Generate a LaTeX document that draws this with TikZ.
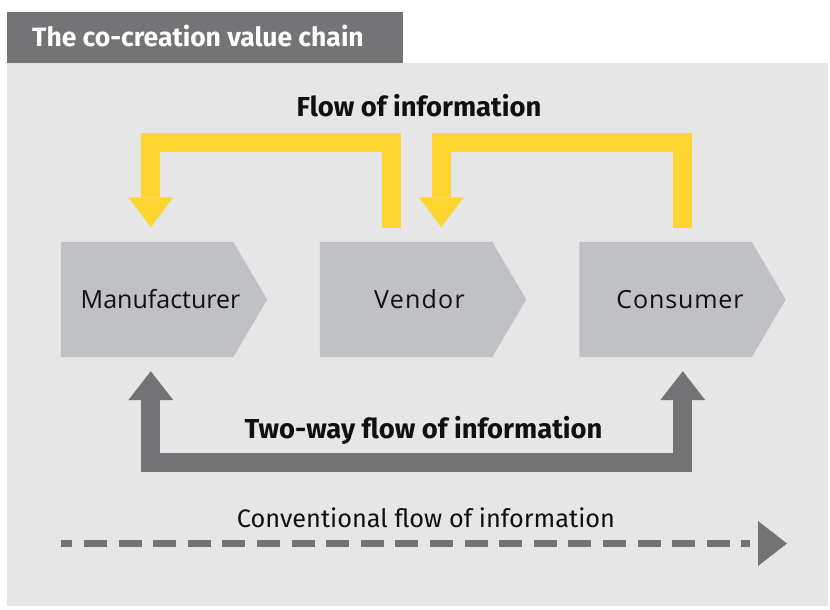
\documentclass[tikz,border=0pt]{standalone}
\usepackage{fontspec}
\setmainfont{Open Sans}
\newfontfamily\headfont{Fira Sans}
\usetikzlibrary{arrows.meta,calc}

\definecolor{panelbg}{RGB}{230,230,230}
\definecolor{headgray}{RGB}{116,116,119}
\definecolor{stagefill}{RGB}{192,193,196}
\definecolor{flowyellow}{RGB}{255,213,48}
\definecolor{flowgray}{RGB}{115,115,118}
\definecolor{inktext}{RGB}{16,16,16}

\tikzset{
  stage/.style={minimum width=206pt, minimum height=115pt, inner sep=0pt,
    font=\fontsize{25}{29}\selectfont, text=inktext},
  heading/.style={font=\headfont\bfseries\fontsize{27.4}{31}\selectfont, text=inktext, inner sep=0pt, anchor=base},
  yflow/.style={draw=flowyellow, line width=19pt, line join=miter, line cap=butt,
    -{Triangle[length=30pt,width=45pt,line width=0pt,fill=flowyellow]}},
  gflow/.style={draw=flowgray, line width=19pt, line join=miter, line cap=butt,
    {Triangle[length=29pt,width=45pt,line width=0pt,fill=flowgray]}-{Triangle[length=29pt,width=45pt,line width=0pt,fill=flowgray]}},
  cflow/.style={draw=flowgray, line width=7pt, line cap=butt,
    dash pattern=on 23pt off 11.6pt, dash phase=11.6pt}
}

% pentagon outline for a stage node: body plus pointed right end
\newcommand{\stageshape}[1]{%
  \fill[stagefill] (#1.north west) -- ($(#1.north east)+(-34,0)$) -- (#1.east)
    -- ($(#1.south east)+(-34,0)$) -- (#1.south west) -- cycle;}

\begin{document}
\begin{tikzpicture}[x=1pt,y=-1pt]
  \useasboundingbox (0,0) rectangle (830,610);
  \fill[white] (0,0) rectangle (830,610);
  \fill[panelbg] (7,63) rectangle (828,606);

  % title bar
  \fill[headgray] (7,12) rectangle (403,63);
  \node[heading, font=\headfont\bfseries\fontsize{26.5}{30}\selectfont,
    anchor=base west, text=white] (title) at (32,47) {The co-creation value chain};

  % value chain stages
  \node[stage] (man) at (164,299.5) {};
  \node[stage] (ven) at (423,299.5) {};
  \node[stage] (con) at (682.5,299.5) {};
  \stageshape{man}
  \stageshape{ven}
  \stageshape{con}
  \node[stage] at (man.center) {Manufacturer\kern7pt};
  \node[stage] at (ven.center) {\addfontfeature{LetterSpace=5}Vendor\kern7pt};
  \node[stage] at (con.center) {\addfontfeature{LetterSpace=3.5}Consumer\kern5pt};

  % backward flow of information (yellow)
  \draw[yflow] ($(ven.north west)+(71.5,-14)$) -- ++(0,-85.5)
     -| ($(man.north west)+(90,-14.5)$);
  \draw[yflow] ($(con.north west)+(103.5,-14)$) -- ++(0,-85.5)
     -| ($(ven.north west)+(121.5,-14.5)$);
  \node[heading] (flowlbl) at (419,116) {Flow of information};

  % two-way flow between manufacturer and consumer
  \draw[gflow] ($(man.south west)+(90,14)$) -- ++(0,91.5)
     -| ($(con.south west)+(103.5,14)$);
  \node[heading] (twolbl) at (423.5,438) {Two-way flow of information};

  % conventional one-way flow: dashed shaft, gap, solid head
  \coordinate (cs) at (61,543.5);
  \coordinate (ce) at (787,543.5);
  \draw[cflow] (cs) -- ($(ce)+(-37,0)$);
  \fill[flowgray] (ce) -- ++(-29,-22.5) -- ++(0,45) -- cycle;
  \node[font=\headfont\fontsize{25.3}{29}\selectfont, text=inktext, inner sep=0pt, anchor=base]
    (convlbl) at (426,527) {Conventional flow of information};
\end{tikzpicture}
\end{document}
